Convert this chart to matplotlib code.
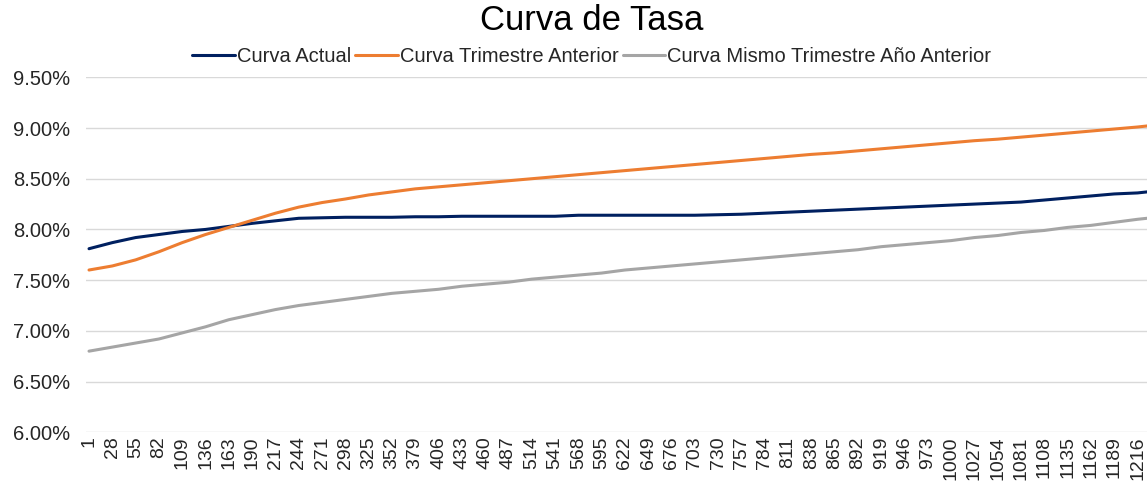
import matplotlib
matplotlib.use("Agg")
import matplotlib.pyplot as plt
from matplotlib.ticker import FuncFormatter

plt.rcParams['font.family'] = ['Liberation Sans', 'DejaVu Sans']

days = [1, 28, 55, 82, 109, 136, 163, 190, 217, 244, 271, 298, 325, 352, 379,
        406, 433, 460, 487, 514, 541, 568, 595, 622, 649, 676, 703, 730, 757,
        784, 811, 838, 865, 892, 919, 946, 973, 1000, 1027, 1054, 1081, 1108,
        1135, 1162, 1189, 1216, 1227]

curva_actual = [7.81, 7.87, 7.92, 7.95, 7.98, 8.00, 8.03, 8.06, 8.085, 8.11, 8.115,
                8.12, 8.12, 8.12, 8.125, 8.125, 8.13, 8.13, 8.13, 8.13, 8.13, 8.14,
                8.14, 8.14, 8.14, 8.14, 8.14, 8.145, 8.15, 8.16, 8.17, 8.18, 8.19,
                8.20, 8.21, 8.22, 8.23, 8.24, 8.25, 8.26, 8.27, 8.29, 8.31, 8.33,
                8.35, 8.36, 8.37]

curva_trim_ant = [7.60, 7.64, 7.70, 7.78, 7.87, 7.95, 8.02, 8.09, 8.16, 8.22, 8.265,
                  8.30, 8.34, 8.37, 8.40, 8.42, 8.44, 8.46, 8.48, 8.50, 8.52, 8.54,
                  8.56, 8.58, 8.60, 8.62, 8.64, 8.66, 8.68, 8.70, 8.72, 8.74, 8.755,
                  8.775, 8.795, 8.815, 8.835, 8.855, 8.875, 8.89, 8.91, 8.93, 8.95,
                  8.97, 8.99, 9.01, 9.02]

curva_mismo_trim = [6.80, 6.84, 6.88, 6.92, 6.98, 7.04, 7.11, 7.16, 7.21, 7.25, 7.28,
                    7.31, 7.34, 7.37, 7.39, 7.41, 7.44, 7.46, 7.48, 7.51, 7.53, 7.55,
                    7.57, 7.60, 7.62, 7.64, 7.66, 7.68, 7.70, 7.72, 7.74, 7.76, 7.78,
                    7.80, 7.83, 7.85, 7.87, 7.89, 7.92, 7.94, 7.97, 7.99, 8.02, 8.04,
                    8.07, 8.10, 8.11]

tick_days = days[:-1]
y_ticks = [6.0, 6.5, 7.0, 7.5, 8.0, 8.5, 9.0, 9.5]

W, H = 1147, 486
fig = plt.figure(figsize=(W / 100, H / 100), dpi=100)
ax = fig.add_axes([86 / W, 1 - 432.3 / H, (W - 86) / W, (432.3 - 77.3) / H])

ax.plot(days, curva_actual, color='#002060', lw=2.2, label='Curva Actual', solid_capstyle='round')
ax.plot(days, curva_trim_ant, color='#ED7D31', lw=2.2, label='Curva Trimestre Anterior', solid_capstyle='round')
ax.plot(days, curva_mismo_trim, color='#A5A5A5', lw=2.2, label='Curva Mismo Trimestre Año Anterior', solid_capstyle='round')

ax.set_xlim(-2.5, 1227)
ax.set_ylim(6.0, 9.5)
ax.set_yticks(y_ticks)
ax.yaxis.set_major_formatter(FuncFormatter(lambda v, p: f"{v:.2f}%"))
ax.set_xticks(tick_days)
ax.set_xticklabels([str(d) for d in tick_days], rotation=90)
ax.tick_params(axis='both', length=0, colors='#262626')
ax.tick_params(axis='y', pad=11.5, labelsize=14.5)
ax.tick_params(axis='x', pad=3, labelsize=14)
ax.grid(axis='y', color='#D9D9D9', lw=1.0)
ax.set_axisbelow(True)
for s in ax.spines.values():
    s.set_visible(False)

fig.text(0.516, 1 - 20 / H, 'Curva de Tasa', ha='center', va='center', fontsize=25, color='#000000')
fig.legend(loc='center', bbox_to_anchor=(0.516, 1 - 57 / H), ncol=3, frameon=False,
           fontsize=14.5, handlelength=2.1, handletextpad=0.12, columnspacing=0.2,
           labelcolor='#262626')

fig.savefig('out.png', dpi=100)
